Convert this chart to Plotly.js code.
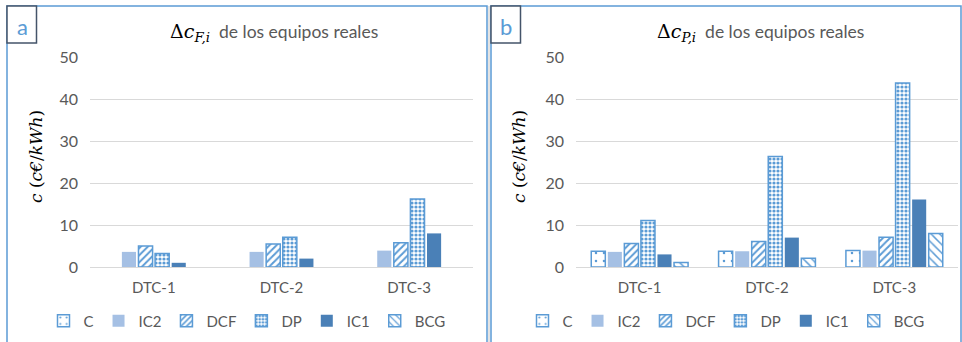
<!DOCTYPE html>
<html>
<head>
<meta charset="utf-8">
<script src="https://cdn.plot.ly/plotly-3.0.1.min.js"></script>
<style>html,body{margin:0;padding:0;background:#fff;}#chart{width:962px;height:342px;}</style>
</head>
<body>
<div id="chart"></div>
<script>
// ---- data ----
const categories = ['DTC-1', 'DTC-2', 'DTC-3'];
const seriesNames = ['C', 'IC2', 'DCF', 'DP', 'IC1', 'BCG'];
const yTicks = [0, 10, 20, 30, 40, 50];

// panel a: Δc_F,i  (C and BCG show no bar in panel a)
const aC   = [null, null, null];
const aIC2 = [3.6, 3.6, 3.9];
const aDCF = [5.0, 5.5, 5.8];
const aDP  = [3.2, 7.1, 16.2];
const aIC1 = [1.0, 2.0, 8.0];
const aBCG = [null, null, null];

// panel b: Δc_P,i
const bC   = [3.75, 3.75, 3.9];
const bIC2 = [3.6, 3.75, 3.9];
const bDCF = [5.6, 6.1, 7.1];
const bDP  = [11.1, 26.3, 43.8];
const bIC1 = [3.0, 7.0, 16.1];
const bBCG = [1.1, 2.1, 8.0];

const panelA = [aC, aIC2, aDCF, aDP, aIC1, aBCG];
const panelB = [bC, bIC2, bDCF, bDP, bIC1, bBCG];

// ---- styles ----
const W = 962, H = 342;
const px = v => v / W;
const py = v => (H - v) / H;
const BLUE = '#5b9bd5';
const styles = {
  C:   {color: 'white', line: {color: BLUE, width: 1.5}, pattern: {shape: '.', fgcolor: BLUE, bgcolor: 'white', size: 8, solidity: 0.08}},
  IC2: {color: '#a5c0e4', line: {color: '#a5c0e4', width: 0}},
  DCF: {color: 'white', line: {color: BLUE, width: 1.5}, pattern: {shape: '/', fgcolor: BLUE, bgcolor: 'white', size: 5, solidity: 0.4}},
  DP:  {color: 'white', line: {color: BLUE, width: 1.5}, pattern: {shape: '.', fgcolor: BLUE, bgcolor: 'white', size: 4, solidity: 0.5}},
  IC1: {color: '#4a80b7', line: {color: '#4a80b7', width: 0}},
  BCG: {color: 'white', line: {color: BLUE, width: 1.5}, pattern: {shape: '\\', fgcolor: BLUE, bgcolor: 'white', size: 6, solidity: 0.25}}
};

const traces = [];
seriesNames.forEach((name, i) => {
  traces.push({type: 'bar', name: name, x: categories, y: panelA[i], xaxis: 'x', yaxis: 'y',
    marker: styles[name], legend: 'legend', hoverinfo: 'skip'});
});
seriesNames.forEach((name, i) => {
  traces.push({type: 'bar', name: name, x: categories, y: panelB[i], xaxis: 'x2', yaxis: 'y2',
    marker: styles[name], legend: 'legend2', hoverinfo: 'skip'});
});

const FONT = 'Lato, "Open Sans", sans-serif';
const GRAY = '#595959';
const yaxisBase = {
  range: [0, 50], tickvals: yTicks, showgrid: true, gridcolor: '#d9d9d9', gridwidth: 1,
  zeroline: false, showline: false, ticks: '', ticklabelstandoff: 11,
  tickfont: {family: FONT, size: 16, color: GRAY}, fixedrange: true
};
const xaxisBase = {
  showline: true, linecolor: '#d9d9d9', linewidth: 1, ticks: '', showgrid: false,
  tickfont: {family: FONT, size: 15, color: GRAY}, ticklabelstandoff: 7, fixedrange: true
};
const legendBase = {orientation: 'h', xanchor: 'center', yanchor: 'middle', y: py(321),
  font: {family: FONT, size: 15, color: GRAY}, itemwidth: 30, bgcolor: 'rgba(0,0,0,0)'};

const mathSpan = sub => '<span style="font-family:\'DejaVu Serif\';font-size:19px;color:#000">Δ<i>c</i><sub><i>' + sub + '</i></sub></span>  de los equipos reales';

const layout = {
  width: W, height: H, margin: {l: 0, r: 0, t: 0, b: 0},
  paper_bgcolor: 'white', plot_bgcolor: 'white',
  barmode: 'group', bargap: 0.22, bargroupgap: 0.15,
  xaxis:  Object.assign({}, xaxisBase, {domain: [px(90), px(473)], anchor: 'y'}),
  yaxis:  Object.assign({}, yaxisBase, {domain: [py(267), py(57)], anchor: 'x'}),
  xaxis2: Object.assign({}, xaxisBase, {domain: [px(576), px(958)], anchor: 'y2'}),
  yaxis2: Object.assign({}, yaxisBase, {domain: [py(267), py(57)], anchor: 'x2'}),
  legend:  Object.assign({}, legendBase, {x: px(247)}),
  legend2: Object.assign({}, legendBase, {x: px(726)}),
  showlegend: true,
  shapes: [
    {type: 'rect', xref: 'paper', yref: 'paper', x0: px(7), x1: px(487), y0: py(350), y1: py(6), line: {color: BLUE, width: 1.5}},
    {type: 'rect', xref: 'paper', yref: 'paper', x0: px(491), x1: px(961), y0: py(350), y1: py(6), line: {color: BLUE, width: 1.5}},
    {type: 'line', xref: 'paper', yref: 'paper', x0: px(489), x1: px(489), y0: py(350), y1: py(6), line: {color: '#c8c8c8', width: 1}},
    {type: 'rect', xref: 'paper', yref: 'paper', x0: px(7), x1: px(36.5), y0: py(43), y1: py(6), line: {color: '#44546a', width: 1.5}, fillcolor: 'white'},
    {type: 'rect', xref: 'paper', yref: 'paper', x0: px(491), x1: px(520.5), y0: py(43), y1: py(6), line: {color: '#44546a', width: 1.5}, fillcolor: 'white'}
  ],
  annotations: [
    {xref: 'paper', yref: 'paper', x: px(22), y: py(26), text: 'a', showarrow: false, xanchor: 'center', yanchor: 'middle',
      font: {family: FONT, size: 22, color: BLUE}},
    {xref: 'paper', yref: 'paper', x: px(506), y: py(26), text: 'b', showarrow: false, xanchor: 'center', yanchor: 'middle',
      font: {family: FONT, size: 22, color: BLUE}},
    {xref: 'paper', yref: 'paper', x: px(274), y: py(33), showarrow: false, xanchor: 'center', yanchor: 'middle',
      text: mathSpan('F,i'), font: {family: FONT, size: 17.5, color: GRAY}},
    {xref: 'paper', yref: 'paper', x: px(760), y: py(33), showarrow: false, xanchor: 'center', yanchor: 'middle',
      text: mathSpan('P,i'), font: {family: FONT, size: 17.5, color: GRAY}},
    {xref: 'paper', yref: 'paper', x: px(36), y: py(157), showarrow: false, textangle: -90, xanchor: 'center', yanchor: 'middle',
      text: '<i>c</i> (<i>c€</i>/<i>kWh</i>)', font: {family: '"DejaVu Serif", serif', size: 17, color: '#000'}},
    {xref: 'paper', yref: 'paper', x: px(519), y: py(157), showarrow: false, textangle: -90, xanchor: 'center', yanchor: 'middle',
      text: '<i>c</i> (<i>c€</i>/<i>kWh</i>)', font: {family: '"DejaVu Serif", serif', size: 17, color: '#000'}}
  ]
};

Plotly.newPlot('chart', traces, layout, {staticPlot: true, displayModeBar: false});
</script>
</body>
</html>
